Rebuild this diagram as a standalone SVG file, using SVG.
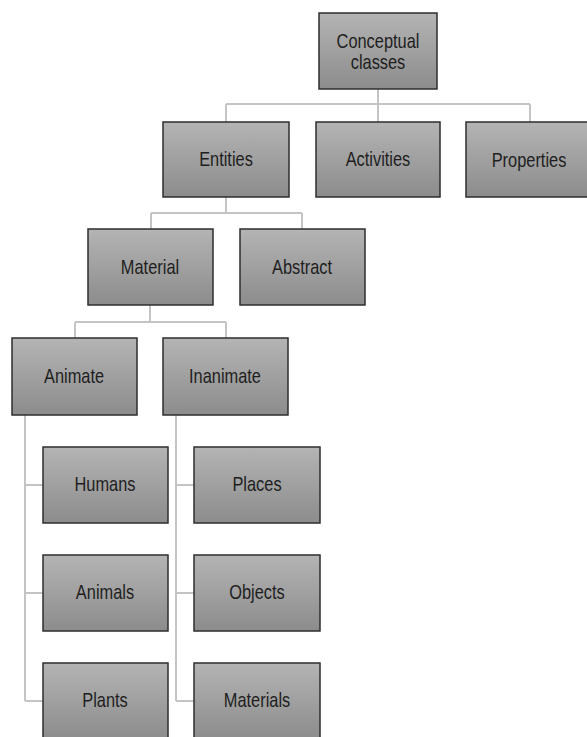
<svg xmlns="http://www.w3.org/2000/svg" width="587" height="737" viewBox="0 0 587 737">
<defs>
<linearGradient id="g" x1="0" y1="0" x2="0" y2="1">
<stop offset="0" stop-color="#b4b4b4"/>
<stop offset="1" stop-color="#8c8c8c"/>
</linearGradient>
</defs>
<style>
.box{fill:url(#g);stroke:#2e2e2e;stroke-width:1.5}
.lbl{font-family:"Liberation Sans",Arial,sans-serif;font-size:20px;fill:#1e1e1e;text-anchor:middle}
.con{fill:none;stroke:#c4c4c4;stroke-width:2}
</style>
<rect width="587" height="737" fill="#ffffff"/>
<g id="connectors">
<path class="con" d="M378,89V104M226,104H530M226,104V122M378,104V122M530,104V122"/>
<path class="con" d="M226,197V213M151,213H302M151,213V229M302,213V229"/>
<path class="con" d="M150,305V322M75,322H226M75,322V338M226,322V338"/>
<path class="con" d="M25,415V701M25,485H43M25,593H43M25,701H43"/>
<path class="con" d="M176,415V701M176,485H194M176,593H194M176,701H194"/>
</g>
<g id="conceptual"><rect class="box" x="319" y="13" width="118" height="76"/><text class="lbl" transform="translate(378,47.5) scale(0.82,1)">Conceptual</text><text class="lbl" transform="translate(378,68.5) scale(0.82,1)">classes</text></g>
<g id="entities"><rect class="box" x="163" y="122" width="126" height="75"/><text class="lbl" transform="translate(226,166) scale(0.82,1)">Entities</text></g>
<g id="activities"><rect class="box" x="316" y="122" width="124" height="75"/><text class="lbl" transform="translate(378,166) scale(0.82,1)">Activities</text></g>
<g id="properties"><rect class="box" x="466" y="122" width="126" height="75"/><text class="lbl" transform="translate(529,166.5) scale(0.82,1)">Properties</text></g>
<g id="material"><rect class="box" x="88" y="229" width="125" height="76"/><text class="lbl" transform="translate(150,273.5) scale(0.82,1)">Material</text></g>
<g id="abstract"><rect class="box" x="240" y="229" width="125" height="76"/><text class="lbl" transform="translate(302,273.5) scale(0.82,1)">Abstract</text></g>
<g id="animate"><rect class="box" x="12" y="338" width="125" height="77"/><text class="lbl" transform="translate(74,382.5) scale(0.82,1)">Animate</text></g>
<g id="inanimate"><rect class="box" x="163" y="338" width="125" height="77"/><text class="lbl" transform="translate(225,382.5) scale(0.82,1)">Inanimate</text></g>
<g id="humans"><rect class="box" x="43" y="447" width="125" height="76"/><text class="lbl" transform="translate(105,491) scale(0.82,1)">Humans</text></g>
<g id="places"><rect class="box" x="194" y="447" width="126" height="76"/><text class="lbl" transform="translate(257,491) scale(0.82,1)">Places</text></g>
<g id="animals"><rect class="box" x="43" y="555" width="125" height="76"/><text class="lbl" transform="translate(105,599) scale(0.82,1)">Animals</text></g>
<g id="objects"><rect class="box" x="194" y="555" width="126" height="76"/><text class="lbl" transform="translate(257,599) scale(0.82,1)">Objects</text></g>
<g id="plants"><rect class="box" x="43" y="663" width="125" height="76"/><text class="lbl" transform="translate(105,707) scale(0.82,1)">Plants</text></g>
<g id="materials"><rect class="box" x="194" y="663" width="126" height="76"/><text class="lbl" transform="translate(257,707) scale(0.82,1)">Materials</text></g>
</svg>
